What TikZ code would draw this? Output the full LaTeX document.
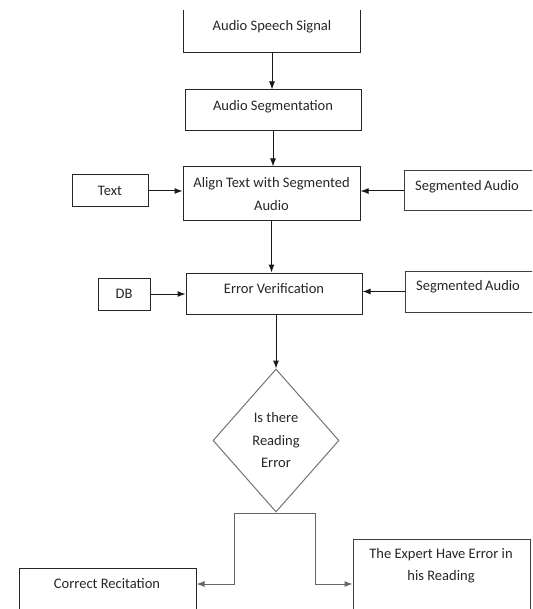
\documentclass[tikz,border=0pt]{standalone}
\usepackage{fontspec}
\setmainfont{Carlito}
\usetikzlibrary{arrows.meta,shapes.geometric}
\begin{document}
\begin{tikzpicture}[x=0.75pt,y=-0.75pt,
  every node/.style={font=\fontsize{10.9}{17}\selectfont, text=black!85},
  box/.style={draw=black!85, line width=0.75pt, inner sep=0pt, rectangle},
  lbl/.style={inner sep=0pt, align=center},
  arr/.style={-{Latex[length=6pt,width=4.5pt]}, line width=0.75pt, draw=black!90},
  branch/.style={line width=0.75pt, draw=black!60}]
\useasboundingbox (0,0) rectangle (532,609);
\clip (0,0) rectangle (532,609);

% top box (top edge cut off)
\node[box, draw=none, minimum width=132pt, minimum height=30.75pt] (ass) at (272,31.5) {};
\draw[line width=0.75pt, black!85] (ass.north west) -- (ass.south west) -- (ass.south east) -- (ass.north east);
\node[lbl] (asst) at (272,27) {Audio Speech Signal};

\node[box, minimum width=132pt, minimum height=30.75pt] (as) at (273,110.5) {};
\node[lbl] (ast) at (273,107) {Audio Segmentation};

\node[box, minimum width=132.75pt, minimum height=40.5pt, align=center] (al) at (271.5,194) {Align Text with Segmented\\Audio};

\node[box, minimum width=57pt, minimum height=24pt] (tx) at (110,191) {Text};

\node[box, draw=black!75, minimum width=105.75pt, minimum height=30pt] (sa1) at (474.5,191) {};
\node[lbl] (sa1t) at (467,187) {Segmented\,Audio};

\node[box, minimum width=132pt, minimum height=30.75pt] (ev) at (274,293.5) {};
\node[lbl] (evt) at (274,289) {Error Verification};

\node[box, minimum width=39pt, minimum height=24pt] (db) at (124,294) {DB};

\node[box, draw=black!75, minimum width=105pt, minimum height=30.75pt] (sa2) at (475,291.5) {};
\node[lbl] (sa2t) at (468,287) {Segmented\,Audio};

\node[diamond, draw=black!55, line width=0.75pt, inner sep=0pt, minimum width=94.5pt, minimum height=107.25pt] (dia) at (276,440.5) {};
\node[lbl] (diat) at (276,440) {Is there\\Reading\\Error};

\node[box, minimum width=132.75pt, minimum height=54pt] (cr) at (107.5,604) {};
\node[lbl] (crt) at (107,584) {Correct Recitation};

\node[box, draw=black!75, minimum width=132.75pt, minimum height=75.75pt] (ex) at (441.5,589.5) {};
\node[lbl, font=\fontsize{10.9}{16.5}\selectfont] (ext) at (441,566) {The Expert Have Error in\\his Reading};

% connectors
\draw[arr] (ass.south) -- (ass.south |- as.north);
\draw[arr] (as.south) -- (as.south |- al.north);
\draw[arr] (tx.east) -- (al.west |- tx.east);
\draw[arr] (sa1.west) -- (al.east |- sa1.west);
\draw[arr] (al.south) -- (al.south |- ev.north);
\draw[arr] (db.east) -- (ev.west |- db.east);
\draw[arr] (sa2.west) -- (ev.east |- sa2.west);
\draw[arr] (ev.south -| dia.north) -- (dia.north);

\coordinate (bl) at (234,513);
\coordinate (br) at (315,513);
\coordinate (lvl) at (0,584);
\draw[branch] (bl) -- (br);
\draw[arr, draw=black!60] (bl) |- (cr.east |- lvl);
\draw[arr, draw=black!60] (br) |- (ex.west |- lvl);
\end{tikzpicture}
\end{document}
